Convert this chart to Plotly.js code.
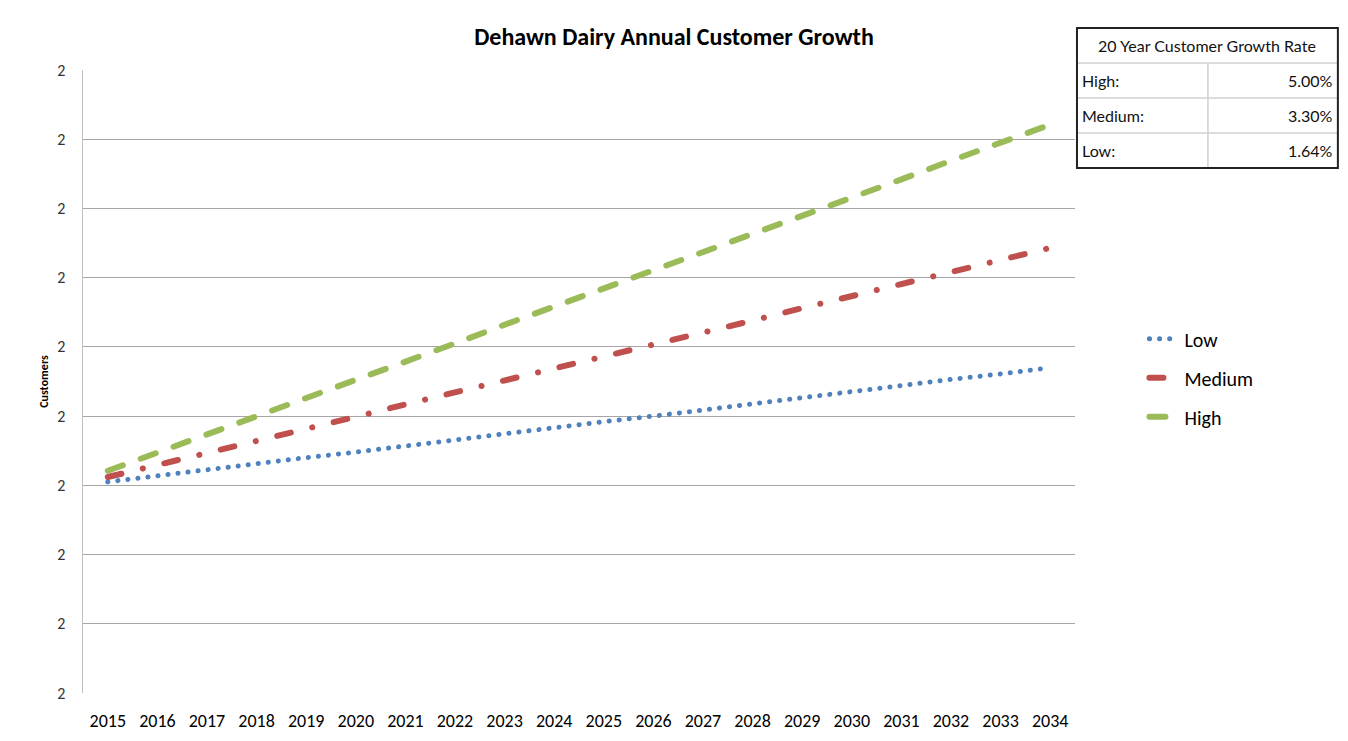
<!DOCTYPE html>
<html>
<head>
<meta charset="utf-8">
<script src="https://cdn.plot.ly/plotly-3.0.1.min.js"></script>
<style>
html,body{margin:0;padding:0;background:#fff;}
#chart{width:1348px;height:741px;}
.scatterlayer .js-line, .legendlines path { stroke-linecap: round !important; }
</style>
</head>
<body>
<div id="chart"></div>
<script>
// ---- data ----
const years = ["2015","2016","2017","2018","2019","2020","2021","2022","2023","2024",
               "2025","2026","2027","2028","2029","2030","2031","2032","2033","2034"];
const lowValues = [1.805,1.814,1.822,1.831,1.840,1.848,1.857,1.866,1.874,1.883,
                   1.892,1.900,1.909,1.918,1.926,1.935,1.944,1.953,1.961,1.970];
const mediumValues = [1.812,1.829,1.847,1.864,1.882,1.899,1.917,1.934,1.951,1.969,
                      1.986,2.004,2.021,2.038,2.056,2.073,2.091,2.108,2.126,2.143];
const highValues = [1.821,1.847,1.874,1.900,1.926,1.953,1.979,2.005,2.032,2.058,
                    2.084,2.111,2.137,2.163,2.190,2.216,2.242,2.269,2.295,2.321];
const yTickVals = [1.5,1.6,1.7,1.8,1.9,2.0,2.1,2.2,2.3,2.4];
const seriesNames = ["Low","Medium","High"];
const tableTitle = "20 Year Customer Growth Rate";
const rateLabels = ["High:","Medium:","Low:"];
const rateValues = ["5.00%","3.30%","1.64%"];

const FONT = "Carlito, Lato, 'Liberation Sans', sans-serif";
const NARROW = "Lato, sans-serif";

const traces = [
  {x: years, y: lowValues, name: seriesNames[0], type: "scatter", mode: "lines",
   legendgroup: "a",
   line: {color: "#4F81BD", width: 5, dash: "0.1px,10px"}},
  {x: years, y: mediumValues, name: seriesNames[1], type: "scatter", mode: "lines",
   legendgroup: "b",
   line: {color: "#C0504D", width: 6, dash: "14px,22px,0.1px,22px"}},
  {x: years, y: highValues, name: seriesNames[2], type: "scatter", mode: "lines",
   legendgroup: "c",
   line: {color: "#9BBB59", width: 6, dash: "16px,19px"}}
];

// table geometry (paper coords)
const tx0 = 1.002, tx1 = 1.265, txm = 1.134;
const rowY = [1.0674, 1.0112, 0.955, 0.8989, 0.8427];
const shapes = [];
const annotations = [];
for (let i = 1; i < 4; i++) {
  shapes.push({type:"line", xref:"paper", yref:"paper", x0:tx0, x1:tx1, y0:rowY[i], y1:rowY[i],
               line:{color:"#d0d0d0", width:1.5}});
}
shapes.push({type:"line", xref:"paper", yref:"paper", x0:txm, x1:txm, y0:rowY[1], y1:rowY[4],
             line:{color:"#d0d0d0", width:1.5}});
shapes.push({type:"rect", xref:"paper", yref:"paper", x0:tx0, x1:tx1, y0:rowY[4], y1:rowY[0],
             line:{color:"#222", width:2}});
annotations.push({xref:"paper", yref:"paper", x:(tx0+tx1)/2, y:(rowY[0]+rowY[1])/2,
                  text: tableTitle, showarrow:false, xanchor:"center", yanchor:"middle",
                  font:{family:NARROW, size:16, color:"#111"}});
for (let i = 0; i < 3; i++) {
  const yc = (rowY[i+1]+rowY[i+2])/2;
  annotations.push({xref:"paper", yref:"paper", x:tx0+0.003, y:yc, text: rateLabels[i],
                    showarrow:false, xanchor:"left", yanchor:"middle",
                    font:{family:NARROW, size:16, color:"#111"}});
  annotations.push({xref:"paper", yref:"paper", x:tx1-0.003, y:yc, text: rateValues[i],
                    showarrow:false, xanchor:"right", yanchor:"middle",
                    font:{family:NARROW, size:16, color:"#111"}});
}

const layout = {
  width: 1348, height: 741,
  margin: {l: 83, r: 273, t: 70, b: 48},
  paper_bgcolor: "#fff", plot_bgcolor: "#fff",
  font: {family: FONT, color: "#000"},
  title: {text: "Dehawn Dairy Annual Customer Growth", x: 0.5, xref: "container",
          y: 1 - 37/741, yref: "container", yanchor: "middle", xanchor: "center",
          font: {family: FONT, size: 24, color: "#000", weight: "bold"}},
  xaxis: {type: "category", range: [-0.5, 19.5], showgrid: false, zeroline: false, showline: false,
          ticks: "", tickfont: {family: FONT, size: 18, color: "#000"},
          ticklabelstandoff: 15},
  yaxis: {range: [1.5, 2.4], tickvals: yTickVals, tickformat: ".0f",
          showgrid: true, gridcolor: "#a6a6a6", gridwidth: 1,
          zeroline: false, showline: true, linecolor: "#bfbfbf", linewidth: 1.5,
          ticks: "", tickfont: {family: FONT, size: 16, color: "#333"},
          ticklabelstandoff: 13,
          title: {text: "Customers", standoff: 6,
                  font: {family: FONT, size: 12, color: "#000", weight: "bold"}}},
  legend: {x: 1.07, y: 0.60, xanchor: "left", yanchor: "top",
           font: {family: FONT, size: 20, color: "#000"},
           tracegroupgap: 10, traceorder: "grouped", bgcolor: "rgba(0,0,0,0)"},
  shapes: shapes,
  annotations: annotations
};

Plotly.newPlot("chart", traces, layout, {displayModeBar: false, staticPlot: true});
</script>
</body>
</html>
